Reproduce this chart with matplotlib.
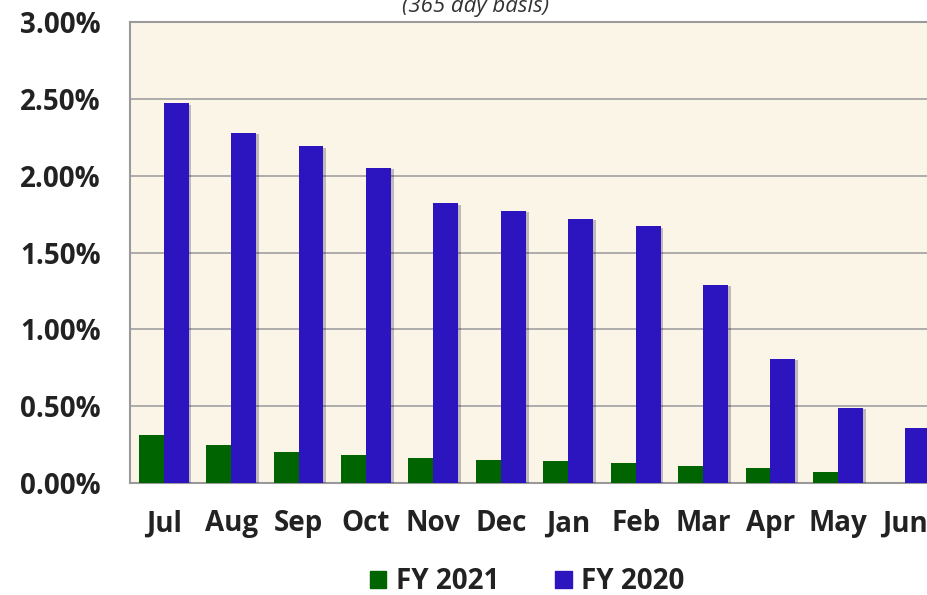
import matplotlib.pyplot as plt
import numpy as np
from matplotlib.patches import Patch
import matplotlib.patheffects as pe

plt.rcParams['font.family'] = ['Open Sans', 'DejaVu Sans']

months = ['Jul', 'Aug', 'Sep', 'Oct', 'Nov', 'Dec', 'Jan', 'Feb', 'Mar', 'Apr', 'May', 'Jun']
fy2021 = [0.31, 0.25, 0.20, 0.18, 0.16, 0.15, 0.14, 0.13, 0.11, 0.10, 0.07, np.nan]
fy2020 = [2.47, 2.28, 2.19, 2.05, 1.82, 1.77, 1.72, 1.67, 1.29, 0.81, 0.49, 0.36]
yticks = [0.0, 0.5, 1.0, 1.5, 2.0, 2.5, 3.0]

green = '#006400'
blue = '#2c14be'

fig = plt.figure(figsize=(9.28, 5.95), dpi=100)
# axes run a bit past the right edge of the picture, like the original crop
ax = fig.add_axes([130 / 928, 112 / 595, 809 / 928, 461 / 595])
ax.set_facecolor('#fbf5e8')

x = np.arange(len(months))
w = 0.37
shadow = [pe.SimplePatchShadow(offset=(2, -1), alpha=0.25), pe.Normal()]
b1 = ax.bar(x - w / 2, fy2021, w, color=green, zorder=3)
b2 = ax.bar(x + w / 2, fy2020, w, color=blue, zorder=3)
for r in list(b1) + list(b2):
    r.set_path_effects(shadow)

ax.set_xlim(-0.5, len(months) - 0.5)
ax.set_ylim(0, 3.0)
ax.set_yticks(yticks)
ax.set_yticklabels(['%.2f%%' % v for v in yticks])
ax.set_xticks(x)
ax.set_xticklabels(months)
ax.tick_params(axis='both', length=0, labelsize=20, colors='#222222')
ax.tick_params(axis='y', pad=21)
ax.tick_params(axis='x', pad=19)
for lab in ax.get_xticklabels() + ax.get_yticklabels():
    lab.set_fontweight('bold')

ax.grid(axis='y', color='#a0a0a0', linewidth=1.2, zorder=1)
for s in ax.spines.values():
    s.set_color('#9a9a9a')
    s.set_linewidth(1.5)

fig.text(0.512, 1 - 12 / 595, '(365 day basis)', ha='center', va='baseline',
         fontsize=16, style='italic', color='#333333')

handles = [Patch(color=green, label='FY 2021'), Patch(color=blue, label='FY 2020')]
leg = fig.legend(handles=handles, loc='center', bbox_to_anchor=(0.568, 0.022),
                 ncol=2, frameon=False, fontsize=20, handlelength=0.6, handleheight=0.6,
                 handletextpad=0.35, columnspacing=2.0, borderpad=0)
for t in leg.get_texts():
    t.set_fontweight('bold')
    t.set_color('#222222')

fig.savefig('out.png', dpi=100)
